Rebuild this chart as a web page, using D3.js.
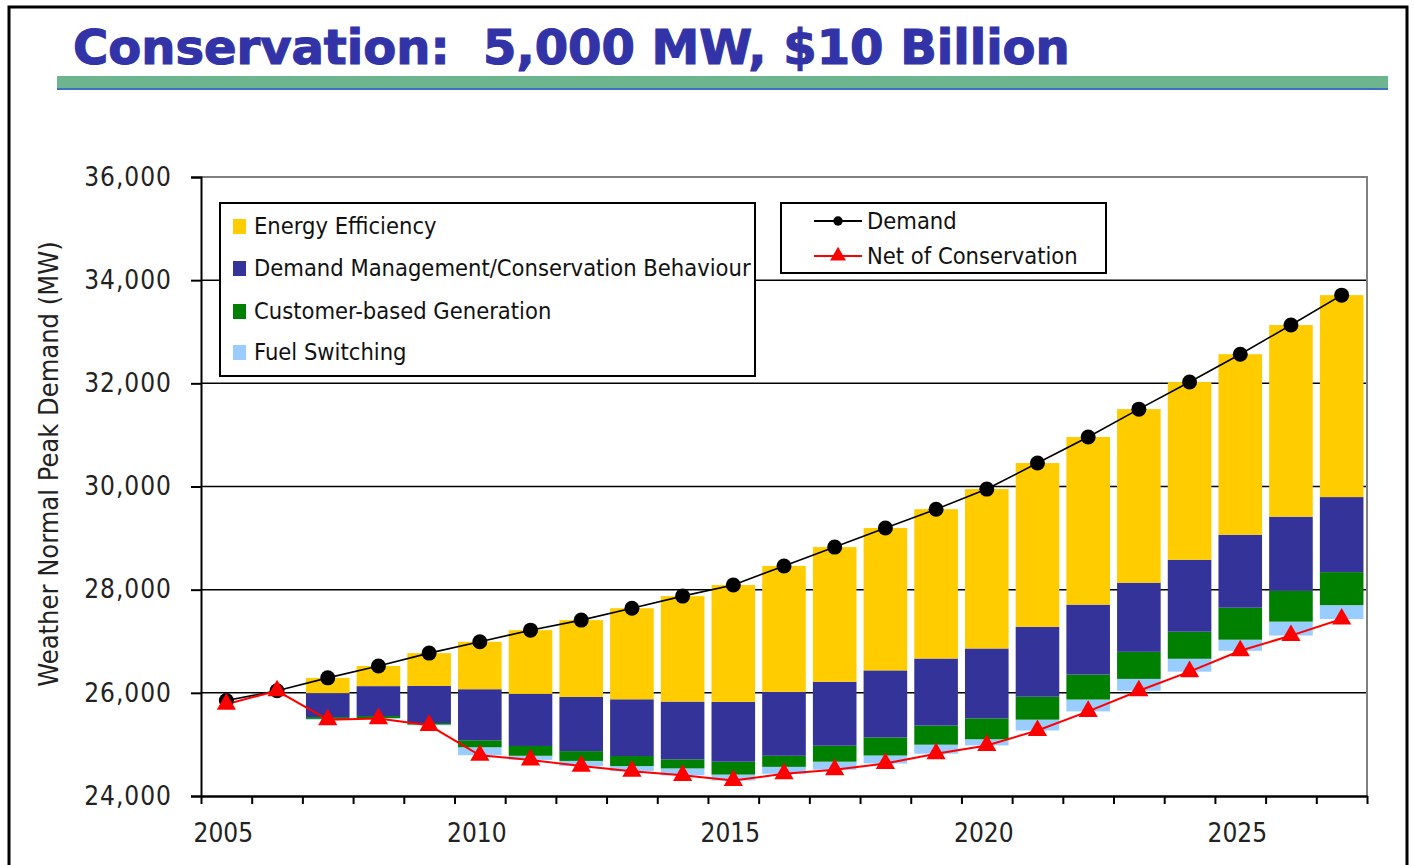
<!DOCTYPE html>
<html>
<head>
<meta charset="utf-8">
<script src="https://cdn.jsdelivr.net/npm/d3@7"></script>
<style>
  body { margin: 0; background: #fff; }
  svg { display: block; }
</style>
</head>
<body>
<div id="chart"></div>
<script>
// Conservation chart: stacked savings between demand and net-of-conservation

const years = [2005, 2006, 2007, 2008, 2009, 2010, 2011, 2012, 2013, 2014, 2015, 2016,
               2017, 2018, 2019, 2020, 2021, 2022, 2023, 2024, 2025, 2026, 2027];
const labelYears = [2005, 2010, 2015, 2020, 2025];
const yTicks = [24000, 26000, 28000, 30000, 32000, 34000, 36000];

// MW
const demand = [25850, 26040, 26290, 26520, 26770, 26990, 27215, 27410, 27640, 27875, 28090, 28460,
                28825, 29195, 29560, 29950, 30455, 30960, 31500, 32025, 32565, 33130, 33710];
const netOfConservation = [25780, 26040, 25480, 25500, 25370, 24790, 24700, 24580, 24480, 24400, 24300, 24430,
                           24510, 24630, 24820, 24980, 25270, 25640, 26040, 26410, 26815, 27110, 27430];
const fuelSwitching = [0, 0, 15, 10, 15, 155, 80, 100, 100, 135, 115, 135,
                       155, 155, 175, 120, 210, 230, 230, 250, 215, 270, 270];
const customerGeneration = [0, 0, 35, 40, 30, 135, 190, 190, 195, 175, 250, 215,
                            310, 350, 370, 405, 445, 485, 525, 525, 620, 600, 640];
const demandManagement = [0, 0, 465, 580, 720, 990, 1010, 1050, 1100, 1120, 1160, 1240,
                          1240, 1300, 1300, 1355, 1355, 1355, 1340, 1395, 1415, 1435, 1455];
const energyEfficiency = [0, 0, 295, 390, 635, 920, 1235, 1490, 1765, 2045, 2265, 2440,
                          2610, 2760, 2895, 3090, 3175, 3250, 3365, 3445, 3500, 3715, 3915];

const seriesInfo = [
    { key: "fs", label: "Fuel Switching", color: "#99ccff" },
    { key: "cg", label: "Customer-based Generation", color: "#008000" },
    { key: "dm", label: "Demand Management/Conservation Behaviour", color: "#333399" },
    { key: "ee", label: "Energy Efficiency", color: "#ffcc00" }
];

const FONT = "'DejaVu Sans Condensed', 'DejaVu Sans', sans-serif";

function renderChart() {
    const width = 1414, height = 865;
    const plot = { left: 201, right: 1367, top: 177, bottom: 796 };

    const svg = d3.select("#chart").append("svg")
        .attr("width", width)
        .attr("height", height)
        .style("background", "#fff");

    // slide frame
    svg.append("rect")
        .attr("x", 9).attr("y", 7)
        .attr("width", 1398).attr("height", 880)
        .attr("fill", "none")
        .attr("stroke", "#000")
        .attr("stroke-width", 3);

    // title + green rule
    svg.append("text")
        .attr("x", 73).attr("y", 64)
        .style("white-space", "pre")
        .attr("font-family", "'DejaVu Sans', sans-serif")
        .attr("font-weight", "bold")
        .attr("font-size", 48)
        .attr("fill", "#3333a8")
        .attr("stroke", "#3333a8")
        .attr("stroke-width", 1.2)
        .text("Conservation:  5,000 MW, $10 Billion");

    svg.append("rect")
        .attr("x", 57).attr("y", 76)
        .attr("width", 1331).attr("height", 12)
        .attr("fill", "#6db58f");
    svg.append("rect")
        .attr("x", 57).attr("y", 88)
        .attr("width", 1331).attr("height", 2)
        .attr("fill", "#3f6fc0");

    // scales
    const x = d3.scaleBand()
        .domain(years)
        .range([plot.left, plot.right])
        .paddingInner(0.14)
        .paddingOuter(0.07);
    const cx = d => x(d) + x.bandwidth() / 2;

    const y = d3.scaleLinear()
        .domain([24000, 36000])
        .range([plot.bottom, plot.top]);

    // gridlines
    svg.append("g")
        .selectAll("line")
        .data(yTicks.slice(1, -1))
        .join("line")
        .attr("x1", plot.left).attr("x2", plot.right)
        .attr("y1", d => y(d)).attr("y2", d => y(d))
        .attr("stroke", "#000")
        .attr("stroke-width", 1.5);

    // plot border (top / right in grey)
    svg.append("path")
        .attr("d", `M${plot.left},${plot.top}H${plot.right}V${plot.bottom}`)
        .attr("fill", "none")
        .attr("stroke", "#808080")
        .attr("stroke-width", 2);

    // stacked bars, starting at the net-of-conservation level
    const rows = years.map((yr, i) => ({
        year: yr,
        base: netOfConservation[i],
        fs: fuelSwitching[i],
        cg: customerGeneration[i],
        dm: demandManagement[i],
        ee: energyEfficiency[i]
    }));
    const stacked = d3.stack().keys(["base", "fs", "cg", "dm", "ee"])(rows);

    svg.append("g")
        .selectAll("g")
        .data(stacked.slice(1))
        .join("g")
        .attr("fill", (d, i) => seriesInfo[i].color)
        .selectAll("rect")
        .data(d => d)
        .join("rect")
        .attr("x", d => x(d.data.year))
        .attr("width", x.bandwidth())
        .attr("y", d => y(d[1]))
        .attr("height", d => Math.max(0, y(d[0]) - y(d[1])));

    // lines
    const line = d3.line()
        .x((d, i) => cx(years[i]))
        .y(d => y(d));

    svg.append("path")
        .datum(demand)
        .attr("d", line)
        .attr("fill", "none")
        .attr("stroke", "#000")
        .attr("stroke-width", 1.6);

    svg.append("path")
        .datum(netOfConservation)
        .attr("d", line)
        .attr("fill", "none")
        .attr("stroke", "#ff0000")
        .attr("stroke-width", 2);

    svg.append("g")
        .selectAll("circle")
        .data(demand)
        .join("circle")
        .attr("cx", (d, i) => cx(years[i]))
        .attr("cy", d => y(d))
        .attr("r", 7.5)
        .attr("fill", "#000");

    const tri = d3.symbol().type(d3.symbolTriangle).size(160);
    svg.append("g")
        .selectAll("path")
        .data(netOfConservation)
        .join("path")
        .attr("transform", (d, i) => `translate(${cx(years[i])},${y(d)})`)
        .attr("d", tri)
        .attr("fill", "#ff0000");

    // y axis
    const yAxis = svg.append("g")
        .attr("transform", `translate(${plot.left},0)`)
        .call(d3.axisLeft(y)
            .tickValues(yTicks)
            .tickSize(10)
            .tickPadding(19)
            .tickFormat(d3.format(",")));
    yAxis.select(".domain").attr("stroke", "#000").attr("stroke-width", 2);
    yAxis.selectAll(".tick line").attr("stroke", "#000").attr("stroke-width", 2);
    yAxis.selectAll("text")
        .attr("font-family", FONT)
        .attr("font-size", 26)
        .attr("letter-spacing", 1)
        .attr("fill", "#222");

    // x axis: tick marks on category edges, labels on centres
    const xEdge = d3.scaleLinear()
        .domain([0, years.length])
        .range([plot.left, plot.right]);
    const xTicks = svg.append("g")
        .attr("transform", `translate(0,${plot.bottom})`)
        .call(d3.axisBottom(xEdge)
            .tickValues(d3.range(0, years.length + 1))
            .tickSize(8)
            .tickSizeOuter(0)
            .tickFormat(""));
    xTicks.select(".domain").attr("stroke", "#000").attr("stroke-width", 2.5);
    xTicks.selectAll(".tick line").attr("stroke", "#000").attr("stroke-width", 2);

    svg.append("g")
        .selectAll("text")
        .data(labelYears)
        .join("text")
        .attr("x", d => cx(d) - 3)
        .attr("y", plot.bottom + 46)
        .attr("text-anchor", "middle")
        .attr("font-family", FONT)
        .attr("font-size", 26)
        .attr("fill", "#222")
        .text(d => d);

    // y axis title
    svg.append("text")
        .attr("transform", "translate(58,464) rotate(-90)")
        .attr("text-anchor", "middle")
        .attr("font-family", FONT)
        .attr("font-size", 27)
        .attr("fill", "#222")
        .text("Weather Normal Peak Demand (MW)");

    addLegends(svg);
}

function addLegends(svg) {
    // bar legend (top to bottom order as in the original)
    const box1 = svg.append("g");
    box1.append("rect")
        .attr("x", 220).attr("y", 203)
        .attr("width", 535).attr("height", 173)
        .attr("fill", "#fff")
        .attr("stroke", "#000")
        .attr("stroke-width", 2);

    const order = seriesInfo.slice().reverse();
    const rowY = [226, 268, 311, 352];
    order.forEach((s, i) => {
        box1.append("rect")
            .attr("x", 233).attr("y", rowY[i] - 7)
            .attr("width", 13).attr("height", 15)
            .attr("fill", s.color);
        box1.append("text")
            .attr("x", 254).attr("y", rowY[i])
            .attr("dy", "0.35em")
            .attr("font-family", FONT)
            .attr("font-size", 23.5)
            .attr("fill", "#111")
            .text(s.label);
    });

    // line legend
    const box2 = svg.append("g");
    box2.append("rect")
        .attr("x", 781).attr("y", 203)
        .attr("width", 325).attr("height", 70)
        .attr("fill", "#fff")
        .attr("stroke", "#000")
        .attr("stroke-width", 2);

    const lineItems = [
        { label: "Demand", color: "#000", marker: d3.symbolCircle, size: 70, y: 221 },
        { label: "Net of Conservation", color: "#ff0000", marker: d3.symbolTriangle, size: 110, y: 256 }
    ];
    lineItems.forEach(item => {
        box2.append("line")
            .attr("x1", 814).attr("x2", 862)
            .attr("y1", item.y).attr("y2", item.y)
            .attr("stroke", item.color)
            .attr("stroke-width", 2);
        box2.append("path")
            .attr("transform", `translate(838,${item.y})`)
            .attr("d", d3.symbol().type(item.marker).size(item.size))
            .attr("fill", item.color);
        box2.append("text")
            .attr("x", 867).attr("y", item.y)
            .attr("dy", "0.35em")
            .attr("font-family", FONT)
            .attr("font-size", 23.5)
            .attr("fill", "#111")
            .text(item.label);
    });
}

renderChart();
</script>
</body>
</html>
